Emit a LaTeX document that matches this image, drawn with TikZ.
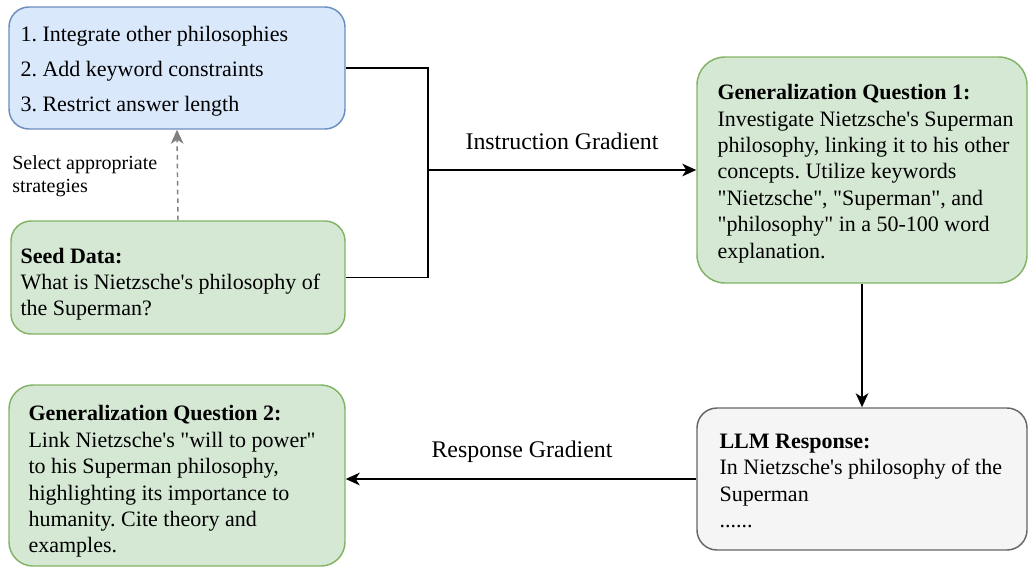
\documentclass[tikz,border=0pt]{standalone}
\usepackage{fontspec}
\setmainfont{Liberation Serif}[Ligatures=TeXOff]
\usetikzlibrary{arrows.meta}
\definecolor{bluefill}{HTML}{DAE8FC}
\definecolor{bluedraw}{HTML}{6C8EBF}
\definecolor{greenfill}{HTML}{D5E8D4}
\definecolor{greendraw}{HTML}{82B366}
\definecolor{grayfill}{HTML}{F5F5F5}
\definecolor{graydraw}{HTML}{666666}
\definecolor{dashgray}{HTML}{808080}
\frenchspacing
\begin{document}
\begin{tikzpicture}[x=0.75pt,y=-0.75pt,
  box/.style={draw, line width=1.1pt, rounded corners=15pt, inner sep=0pt},
  bluebox/.style={box, fill=bluefill, draw=bluedraw},
  greenbox/.style={box, fill=greenfill, draw=greendraw},
  graybox/.style={box, fill=grayfill, draw=graydraw},
  txt/.style={anchor=west, align=left, inner sep=0pt, font=\fontsize{16.5}{19.8}\selectfont},
  lbl/.style={inner sep=0pt, font=\fontsize{17.9}{21}\selectfont},
  conn/.style={line width=1.1pt, draw=black},
  arr/.style={conn, -{Stealth[length=10.5pt,width=9.5pt,inset=3pt]}},
  dasharr/.style={line width=1.1pt, draw=dashgray, dash pattern=on 3.5pt off 3pt, -{Stealth[length=10.5pt,width=9.5pt,inset=3pt]}}
]
\useasboundingbox (0,0) rectangle (1028,569);

% boxes
\node[bluebox, minimum width=252pt, minimum height=91.5pt] (blue) at (177,68) {};
\node[greenbox, minimum width=250.5pt, minimum height=84.75pt] (seed) at (178,277.5) {};
\node[greenbox, minimum width=247.5pt, minimum height=169.5pt, rounded corners=21pt] (q1) at (862,170) {};
\node[graybox, minimum width=247.5pt, minimum height=106.5pt] (llm) at (862,479) {};
\node[greenbox, minimum width=252pt, minimum height=135.75pt, rounded corners=18pt] (q2) at (177,475.5) {};

% texts
\node[txt, font=\fontsize{16.5}{26.25}\selectfont] (bluetxt) at ([xshift=9pt,yshift=-2.75pt]blue.west)
  {1. Integrate other philosophies\\2. Add keyword constraints\\3. Restrict answer length};
\node[txt] (seedtxt) at ([xshift=7.5pt,yshift=-5pt]seed.west)
  {\textbf{Seed Data:}\\What is Nietzsche's philosophy of\\the Superman?};
\node[txt] (q1txt) at ([xshift=15.75pt,yshift=-2.75pt]q1.west)
  {\textbf{Generalization Question 1:}\\Investigate Nietzsche's Superman\\philosophy, linking it to his other\\concepts. Utilize keywords\\"Nietzsche", "Superman", and\\"philosophy" in a 50-100 word\\explanation.};
\node[txt] (q2txt) at ([xshift=15pt,yshift=-4.5pt]q2.west)
  {\textbf{Generalization Question 2:}\\Link Nietzsche's "will to power"\\to his Superman philosophy,\\highlighting its importance to\\humanity. Cite theory and\\examples.};
\node[txt] (llmtxt) at ([xshift=17.25pt,yshift=-1.5pt]llm.west)
  {\textbf{LLM Response:}\\In Nietzsche's philosophy of the\\Superman\\......};

% labels
\node[lbl] (ig) at (562,141) {Instruction Gradient};
\node[lbl] (rg) at (522,452) {Response Gradient};
\node[anchor=north west, align=left, inner sep=0pt, font=\fontsize{15}{17.25}\selectfont] (sel) at (12,155)
  {Select appropriate\\strategies};

% connectors
\coordinate (j) at (428,170);
\draw[conn] (blue.east) -| (j) |- (seed.east);
\draw[arr] (j) -- (q1.west);
\draw[arr] (q1.south) -- (llm.north);
\draw[arr] (llm.west) -- (llm.west -| q2.east);
\draw[dasharr] (seed.north) -- (blue.south);
\end{tikzpicture}
\end{document}
